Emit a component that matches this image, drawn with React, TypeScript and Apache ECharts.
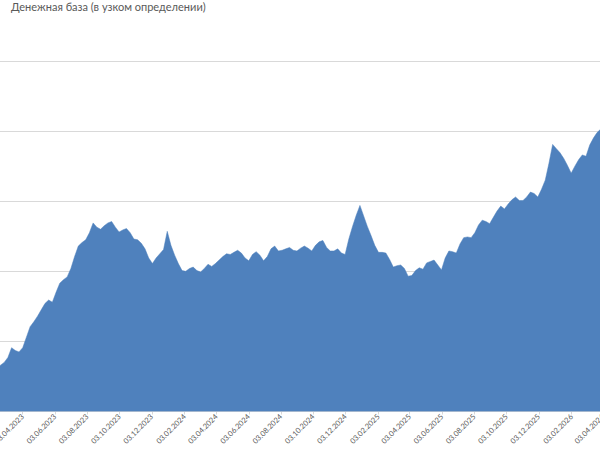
import React, { useEffect, useRef } from "react";
import * as echarts from "echarts";

const TITLE = "Денежная база (в узком определении)";

// Weekly observations (Mondays) starting from this date
const FIRST_WEEK = [2023, 1, 13]; // 13.02.2023 (month is 0-based)

// Values, trillion rubles
const values: number[] = [
  14.61, 14.66, 14.70, 14.77, 14.91, 14.87, 14.85,
  14.91, 15.06, 15.21, 15.28, 15.36, 15.45, 15.54, 15.59, 15.56, 15.70,
  15.83, 15.88, 15.92, 16.04, 16.21, 16.36, 16.41, 16.45, 16.55, 16.69,
  16.63, 16.60, 16.65, 16.69, 16.71, 16.63, 16.56, 16.59, 16.61, 16.55,
  16.46, 16.45, 16.40, 16.32, 16.19, 16.11, 16.19, 16.25, 16.31, 16.57,
  16.37, 16.23, 16.11, 16.01, 16.00, 16.04, 16.06, 16.01, 15.99, 16.04,
  16.10, 16.07, 16.11, 16.16, 16.21, 16.25, 16.24, 16.27, 16.30, 16.26,
  16.19, 16.15, 16.24, 16.28, 16.23, 16.15, 16.21, 16.32, 16.36, 16.29,
  16.30, 16.32, 16.34, 16.30, 16.29, 16.33, 16.36, 16.33, 16.29, 16.37,
  16.42, 16.44, 16.34, 16.29, 16.29, 16.32, 16.26, 16.24, 16.46, 16.64,
  16.80, 16.94, 16.79, 16.64, 16.51, 16.37, 16.27, 16.27, 16.26, 16.17,
  16.06, 16.08, 16.09, 16.04, 15.93, 15.94, 16.01, 16.05, 16.03, 16.12,
  16.14, 16.16, 16.09, 16.02, 16.19, 16.29, 16.28, 16.26, 16.39, 16.48,
  16.49, 16.48, 16.55, 16.66, 16.73, 16.71, 16.68, 16.77, 16.86, 16.93,
  16.89, 16.96, 17.02, 17.06, 17.01, 17.01, 17.06, 17.13, 17.11, 17.06,
  17.17, 17.30, 17.54, 17.81, 17.75, 17.69, 17.61, 17.51, 17.40, 17.50,
  17.59, 17.66, 17.64, 17.80, 17.90, 17.98, 18.03,
];

// Tick labels: every two months on the 3rd
const tickLabels: string[] = [
  "03.04.2023", "03.06.2023", "03.08.2023", "03.10.2023", "03.12.2023",
  "03.02.2024", "03.04.2024", "03.06.2024", "03.08.2024", "03.10.2024",
  "03.12.2024", "03.02.2025", "03.04.2025", "03.06.2025", "03.08.2025",
  "03.10.2025", "03.12.2025", "03.02.2026", "03.04.2026",
];

const parseLabel = (s: string) => {
  const [d, m, y] = s.split(".").map(Number);
  return new Date(y, m - 1, d).getTime();
};

const pad = (n: number) => (n < 10 ? "0" + n : "" + n);
const fmt = (t: number) => {
  const d = new Date(Math.round(t));
  return pad(d.getDate()) + "." + pad(d.getMonth() + 1) + "." + d.getFullYear();
};

export default function App() {
  const ref = useRef<HTMLDivElement>(null);
  useEffect(() => {
    if (!ref.current) return;
    const chart = echarts.init(ref.current, undefined, { renderer: "svg" });
    const DAY = 86400000;
    const data = values.map((v, i) => [
      new Date(FIRST_WEEK[0], FIRST_WEEK[1], FIRST_WEEK[2] + 7 * i).getTime(),
      v,
    ]);
    const ticks = tickLabels.map(parseLabel);
    const anchor = ticks[0];
    chart.setOption({
      animation: false,
      backgroundColor: "#ffffff",
      title: {
        text: TITLE,
        left: 11,
        top: 1,
        padding: 0,
        textStyle: {
          fontFamily: "Lato, 'Noto Sans', sans-serif",
          fontSize: 11,
          fontWeight: "normal",
          color: "#595959",
        },
      },
      grid: {
        left: 0,
        right: -4,
        top: 61,
        bottom: 38.5,
        containLabel: false,
        outerBoundsMode: "none",
      },
      xAxis: {
        type: "value",
        min: anchor - 42.9 * DAY,
        max: anchor + 1098 * DAY,
        scale: true,
        splitLine: { show: false },
        axisLine: { show: true, onZero: false, lineStyle: { color: "#d9d9d9", width: 1 } },
        axisTick: {
          show: true,
          length: 3,
          customValues: ticks,
          lineStyle: { color: "#d9d9d9" },
        },
        axisLabel: {
          customValues: ticks,
          rotate: 45,
          margin: 4,
          fontSize: 7.5,
          fontFamily: "Lato, 'Noto Sans', sans-serif",
          color: "#595959",
          hideOverlap: false,
          formatter: (val: number) => fmt(val),
        },
      },
      yAxis: {
        type: "value",
        min: 14,
        max: 19,
        interval: 1,
        axisLabel: { show: false },
        axisLine: { show: false },
        axisTick: { show: false },
        splitLine: { show: true, lineStyle: { color: "#d9d9d9", width: 1 } },
      },
      series: [
        {
          type: "line",
          data,
          symbol: "none",
          clip: true,
          lineStyle: { width: 0.5, color: "#4F81BD" },
          areaStyle: { color: "#4F81BD", opacity: 1, origin: "start" },
          itemStyle: { color: "#4F81BD" },
        },
      ],
    });
    return () => chart.dispose();
  }, []);
  return (
    <div
      ref={ref}
      style={{ position: "fixed", left: 0, top: 0, width: 600, height: 450, background: "#fff" }}
    />
  );
}
